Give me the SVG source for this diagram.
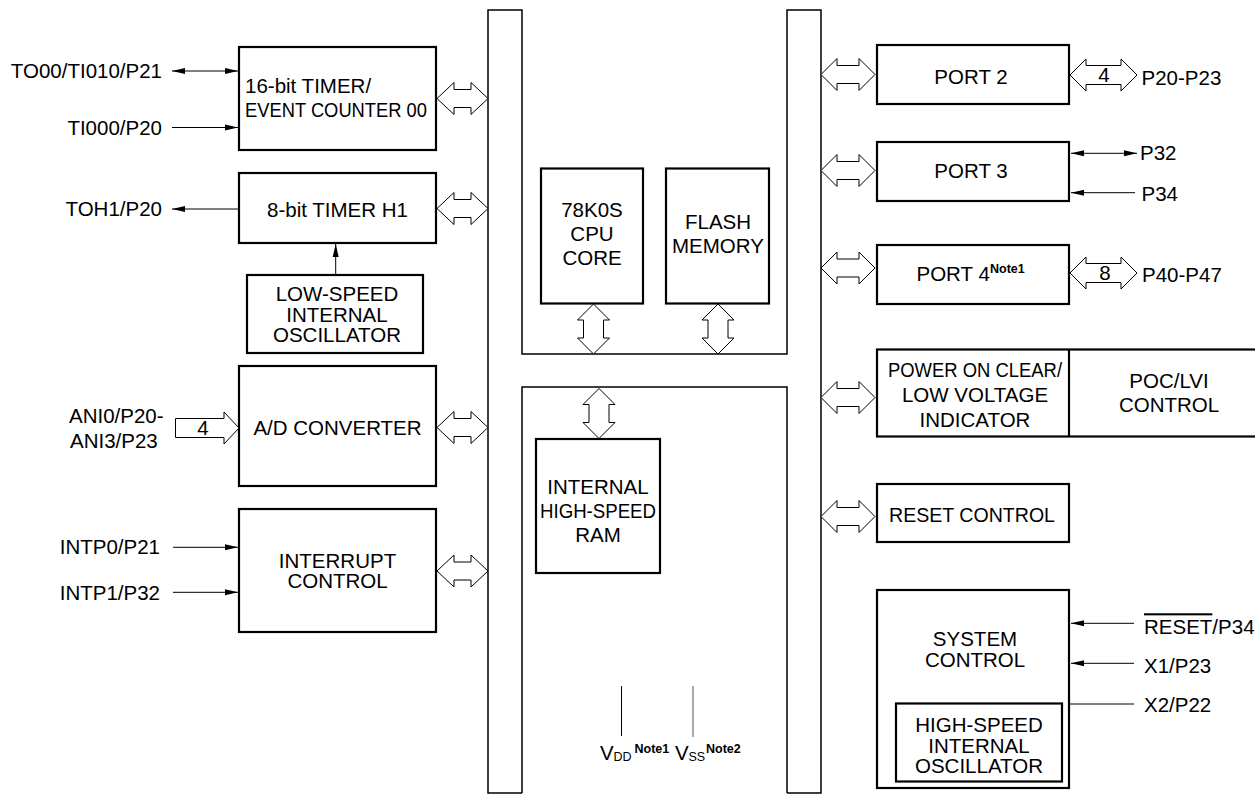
<svg xmlns="http://www.w3.org/2000/svg" xmlns:xlink="http://www.w3.org/1999/xlink" width="1255" height="795" viewBox="0 0 1255 795">
<style>
text{font-family:"Liberation Sans",Arial,Helvetica,sans-serif;font-size:20.5px;fill:#000}
.box{fill:#fff;stroke:#000;stroke-width:2.2}
.bus{fill:none;stroke:#000;stroke-width:1.5}
.ha{fill:#fff;stroke:#000;stroke-width:1}
.ln{fill:none;stroke:#000;stroke-width:1}
.c{text-anchor:middle}
.e{text-anchor:end}
.note{font-size:12.5px;font-weight:bold}
.sub{font-size:12.5px}
</style>
<defs>
<marker id="ah" markerUnits="userSpaceOnUse" markerWidth="13" markerHeight="7" refX="13" refY="3.5" orient="auto-start-reverse"><path d="M0,0.5 L13,3.5 L0,6.5 Z" fill="#000"/></marker>
<path id="h51" class="ha" d="M0,0 L17,-16 L17,-9 L34,-9 L34,-16 L51,0 L34,16 L34,9 L17,9 L17,16 Z"/>
<path id="h54" class="ha" d="M0,0 L16,-16 L16,-9 L38,-9 L38,-16 L54,0 L38,16 L38,9 L16,9 L16,16 Z"/>
<path id="h67" class="ha" d="M0,0 L16,-16 L16,-9.5 L51,-9.5 L51,-16 L67,0 L51,16 L51,9.5 L16,9.5 L16,16 Z"/>
<path id="v50" class="ha" d="M0,0 L-16,16 L-10,16 L-10,34 L-16,34 L0,50 L16,34 L10,34 L10,16 L16,16 Z"/>
</defs>

<g id="bus">
<path class="bus" d="M522,793 H488 V10 H522 V354 H787 V10 H821 V793 H787"/>
<path class="bus" d="M522,793 V387 H787 V793"/>
</g>

<g id="timer16">
<rect class="box" x="239" y="47" width="197" height="103"/>
<text x="245" y="93">16-bit TIMER/</text>
<text x="245" y="116.5" textLength="182" lengthAdjust="spacingAndGlyphs">EVENT COUNTER 00</text>
</g>
<g id="timerH1">
<rect class="box" x="239" y="173" width="197" height="70"/>
<text class="c" x="337.5" y="216.5">8-bit TIMER H1</text>
</g>
<g id="lowosc">
<rect class="box" x="247" y="275" width="176" height="78"/>
<text class="c" x="337" y="301">LOW-SPEED</text>
<text class="c" x="337" y="321.5">INTERNAL</text>
<text class="c" x="337" y="341.5">OSCILLATOR</text>
</g>
<g id="adc">
<rect class="box" x="239" y="366" width="197" height="120"/>
<text class="c" x="337.5" y="434.5">A/D CONVERTER</text>
</g>
<g id="intc">
<rect class="box" x="239" y="509" width="197" height="123"/>
<text class="c" x="337.5" y="567.5">INTERRUPT</text>
<text class="c" x="337.5" y="588.3">CONTROL</text>
</g>

<g id="cpu">
<rect class="box" x="541" y="168.5" width="102" height="135"/>
<text class="c" x="592" y="216.7">78K0S</text>
<text class="c" x="592" y="240.7">CPU</text>
<text class="c" x="592" y="265">CORE</text>
</g>
<g id="flash">
<rect class="box" x="666" y="168.5" width="103" height="135"/>
<text class="c" x="718" y="229.3">FLASH</text>
<text class="c" x="718" y="253.3">MEMORY</text>
</g>
<g id="ram">
<rect class="box" x="536" y="439" width="124" height="134"/>
<text class="c" x="598" y="494">INTERNAL</text>
<text class="c" x="598" y="518.3" textLength="116" lengthAdjust="spacingAndGlyphs">HIGH-SPEED</text>
<text class="c" x="598" y="542">RAM</text>
</g>

<g id="port2">
<rect class="box" x="877" y="45" width="192" height="59"/>
<text class="c" x="971" y="84">PORT 2</text>
</g>
<g id="port3">
<rect class="box" x="877" y="142" width="192" height="59"/>
<text class="c" x="971" y="177.7">PORT 3</text>
</g>
<g id="port4">
<rect class="box" x="877" y="245" width="192" height="59"/>
<text x="916.5" y="280.7">PORT 4</text>
<text class="note" x="990" y="272.7">Note1</text>
</g>
<g id="poclvi">
<rect class="box" x="877" y="349.5" width="400" height="87"/>
<line x1="1069" y1="349.5" x2="1069" y2="436.5" stroke="#000" stroke-width="2.2"/>
<text class="c" x="975" y="377.3" textLength="174" lengthAdjust="spacingAndGlyphs">POWER ON CLEAR/</text>
<text class="c" x="975" y="402.3">LOW VOLTAGE</text>
<text class="c" x="975" y="426.7">INDICATOR</text>
<text class="c" x="1169" y="387.7">POC/LVI</text>
<text class="c" x="1169" y="411.7">CONTROL</text>
</g>
<g id="resetctl">
<rect class="box" x="877" y="484" width="192" height="58"/>
<text class="c" x="972" y="521.7" textLength="166" lengthAdjust="spacingAndGlyphs">RESET CONTROL</text>
</g>
<g id="sysctl">
<rect class="box" x="877" y="590" width="192" height="198"/>
<text class="c" x="975" y="646">SYSTEM</text>
<text class="c" x="975" y="667.3">CONTROL</text>
<rect class="box" x="896" y="703.5" width="166" height="78"/>
<text class="c" x="979" y="732.3">HIGH-SPEED</text>
<text class="c" x="979" y="753.3">INTERNAL</text>
<text class="c" x="979" y="773.3">OSCILLATOR</text>
</g>

<g id="connectors">
<use xlink:href="#h51" x="437" y="98.5"/>
<use xlink:href="#h51" x="437" y="208.5"/>
<use xlink:href="#h51" x="437" y="427.5"/>
<use xlink:href="#h51" x="437" y="571"/>
<use xlink:href="#h54" x="821" y="74.5"/>
<use xlink:href="#h54" x="821" y="170.5"/>
<use xlink:href="#h54" x="821" y="268"/>
<use xlink:href="#h54" x="821" y="397.5"/>
<use xlink:href="#h54" x="821" y="516.5"/>
<use xlink:href="#h67" x="1070" y="75"/>
<use xlink:href="#h67" x="1070" y="273"/>
<use xlink:href="#v50" x="593.5" y="304"/>
<use xlink:href="#v50" x="718" y="304"/>
<use xlink:href="#v50" x="599" y="388.5"/>
<path class="ha" d="M175.5,418.5 H224 V412 L239,428 L224,444 V437.5 H175.5 Z"/>
<line class="ln" x1="172" y1="71" x2="238" y2="71" marker-start="url(#ah)" marker-end="url(#ah)"/>
<line class="ln" x1="172" y1="127.5" x2="238" y2="127.5" marker-end="url(#ah)"/>
<line class="ln" x1="238" y1="209" x2="172" y2="209" marker-end="url(#ah)"/>
<line class="ln" x1="335.7" y1="275" x2="335.7" y2="244" marker-end="url(#ah)"/>
<line class="ln" x1="173" y1="547.3" x2="238" y2="547.3" marker-end="url(#ah)"/>
<line class="ln" x1="173" y1="592.3" x2="238" y2="592.3" marker-end="url(#ah)"/>
<line class="ln" x1="1071" y1="153.3" x2="1137" y2="153.3" marker-start="url(#ah)" marker-end="url(#ah)"/>
<line class="ln" x1="1135" y1="192.7" x2="1071" y2="192.7" marker-end="url(#ah)"/>
<line class="ln" x1="1134" y1="623.3" x2="1071" y2="623.3" marker-end="url(#ah)"/>
<line class="ln" x1="1134" y1="663.3" x2="1071" y2="663.3" marker-end="url(#ah)"/>
<line class="ln" x1="1069" y1="704" x2="1134" y2="704"/>
<line class="ln" x1="621.5" y1="686" x2="621.5" y2="736"/>
<line x1="693" y1="686" x2="693" y2="737" stroke="#555" stroke-width="1"/>
</g>

<g id="labels">
<text class="e" x="162" y="78">TO00/TI010/P21</text>
<text class="e" x="162" y="135">TI000/P20</text>
<text class="e" x="162" y="216.3">TOH1/P20</text>
<text x="69" y="423.3">ANI0/P20-</text>
<text x="70" y="448.3">ANI3/P23</text>
<text class="c" x="203" y="435">4</text>
<text class="e" x="160" y="554.3">INTP0/P21</text>
<text class="e" x="160" y="600">INTP1/P32</text>
<text class="c" x="1104" y="82.3">4</text>
<text x="1141.5" y="85">P20-P23</text>
<text x="1140" y="160">P32</text>
<text x="1141.5" y="200.7">P34</text>
<text class="c" x="1105" y="280">8</text>
<text x="1142" y="281.7">P40-P47</text>
<text x="1144" y="634.3"><tspan style="text-decoration:overline">RESET</tspan>/P34</text>
<text x="1144" y="673.3">X1/P23</text>
<text x="1144" y="712.3">X2/P22</text>
<text x="600" y="760">V</text>
<text class="sub" x="613.5" y="761">DD</text>
<text class="note" x="634.5" y="752.5">Note1</text>
<text x="675" y="760">V</text>
<text class="sub" x="688.5" y="761">SS</text>
<text class="note" x="706" y="752.5">Note2</text>
</g>
</svg>
